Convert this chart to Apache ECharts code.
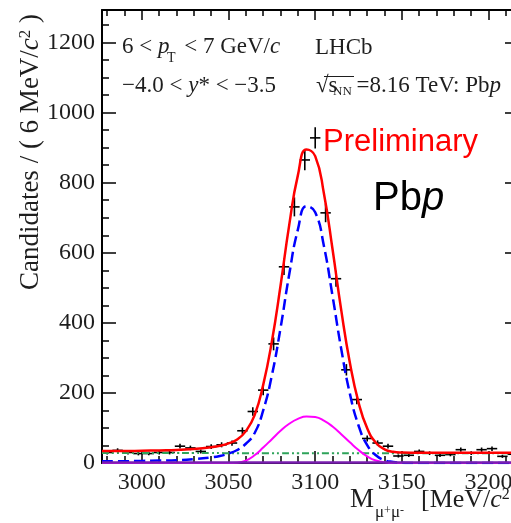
<!DOCTYPE html>
<html>
<head>
<meta charset="utf-8">
<script src="https://cdn.jsdelivr.net/npm/echarts@6/dist/echarts.min.js"></script>
<style>
  html, body { margin: 0; padding: 0; background: #fff; }
  #chart { width: 511px; height: 523px; }
</style>
</head>
<body>
<div id="chart"></div>
<script>
// dimuon mass bins (6 MeV wide) and candidate counts
var binCenters = [2980, 2986, 2992, 2998, 3004, 3010, 3016, 3022, 3028, 3034,
                  3040, 3046, 3052, 3058, 3064, 3070, 3076, 3082, 3088, 3094,
                  3100, 3106, 3112, 3118, 3124, 3130, 3136, 3142, 3148, 3154,
                  3160, 3166, 3172, 3178, 3184, 3190, 3196, 3202, 3208, 3214];
var counts = [30, 36, 30, 27, 27, 30, 30, 48, 43, 33,
              47, 52, 57, 92, 147, 208, 340, 560, 731, 865,
              928, 714, 526, 266, 181, 70, 57, 48, 20, 22,
              33, 28, 22, 24, 38, 28, 38, 41, 19, 25];
var halfBin = 3;

// fit curves at these masses
var curveX = [2977, 2990, 3000, 3010, 3020, 3030, 3040, 3045, 3050, 3055,
              3060, 3065, 3070, 3075, 3080, 3085, 3090, 3095, 3100, 3105,
              3110, 3115, 3120, 3125, 3130, 3135, 3140, 3145, 3150, 3160,
              3170, 3180, 3190, 3200, 3210, 3217];
var totalFit = [34, 34, 35, 36, 37, 40, 45, 49, 56, 67,
                91, 136, 223, 347, 506, 679, 821, 895, 876, 770,
                610, 437, 286, 173, 99, 58, 39, 32, 30, 29,
                29, 29, 29, 29, 29, 29];
var signalMain = [5, 5, 6, 7, 8, 11, 16, 20, 27, 37,
                  55, 85, 150, 250, 385, 538, 666, 733, 716, 620,
                  477, 326, 198, 107, 51, 22, 8, 3, 1, 0,
                  0, 0, 0, 0, 0, 0];
var signalSecond = [0, 0, 0, 0, 0, 0, 0, 0, 0, 1,
                    7, 22, 44, 68, 92, 112, 126, 133, 131, 121,
                    104, 82, 59, 37, 19, 7, 2, 0, 0, 0,
                    0, 0, 0, 0, 0, 0];
var bkgFlat = [28.5, 28.4, 28.4, 28.3, 28.3, 28.2, 28.2, 28.2, 28.1, 28.1,
               28.1, 28, 28, 28, 28, 28, 28, 28, 28, 28,
               28, 28, 28, 28, 28, 27.9, 27.9, 27.9, 27.9, 27.8,
               27.8, 27.7, 27.7, 27.6, 27.6, 27.5];
var bkgLow = [1.5, 1.5, 1.5, 1.5, 1.5, 1.5, 1.5, 1.5, 1.5, 1.5,
              1.5, 1.5, 1.5, 1.5, 1.5, 1.5, 1.5, 1.5, 1.5, 1.5,
              1.5, 1.5, 1.5, 1.5, 1.5, 1.5, 1.5, 1.5, 1.5, 1.5,
              1.5, 1.5, 1.5, 1.5, 1.5, 1.5];

// axes
var xMin = 2977, xMax = 3217, yMin = 0, yMax = 1293;
var xMajorTicks = [3000, 3050, 3100, 3150, 3200];
var xMinorTicks = [2980, 2990, 3010, 3020, 3030, 3040, 3060, 3070, 3080, 3090,
                   3110, 3120, 3130, 3140, 3160, 3170, 3180, 3190, 3210];
var yMajorTicks = [0, 200, 400, 600, 800, 1000, 1200];
var yMinorTicks = [50, 100, 150, 250, 300, 350, 450, 500, 550, 650, 700, 750,
                   850, 900, 950, 1050, 1100, 1150, 1250];

var serif = 'Liberation Serif';
var sans = 'Liberation Sans';
var ink = '#1e1e1e';

function pairs(xs, ys) {
  return xs.map(function (x, i) { return [x, ys[i]]; });
}

function plain(v) { return String(v); }

function xAx(grid, pos, ticks, len, withLine, labels) {
  return {
    type: 'value', gridIndex: grid, position: pos, min: xMin, max: xMax,
    axisLine: { show: withLine, onZero: false, lineStyle: { color: '#000', width: 2 } },
    axisTick: { show: true, inside: true, length: len, customValues: ticks,
                lineStyle: { color: '#000', width: 1.5 } },
    axisLabel: labels ? { show: true, customValues: ticks, formatter: plain, fontFamily: serif,
                          fontSize: 24, color: ink, margin: 8 } : { show: false },
    splitLine: { show: false }
  };
}

function yAx(grid, pos, ticks, len, withLine, labels) {
  return {
    type: 'value', gridIndex: grid, position: pos, min: yMin, max: yMax,
    axisLine: { show: withLine, onZero: false, lineStyle: { color: '#000', width: 2 } },
    axisTick: { show: true, inside: true, length: len, customValues: ticks,
                lineStyle: { color: '#000', width: 1.5 } },
    axisLabel: labels ? { show: true, customValues: ticks, formatter: plain, fontFamily: serif,
                          fontSize: 24, color: ink, margin: 7 } : { show: false },
    splitLine: { show: false }
  };
}

function line(name, ys, color, width, type, z) {
  return {
    name: name, type: 'line', xAxisIndex: 0, yAxisIndex: 0,
    data: pairs(curveX, ys), showSymbol: false, smooth: 0.5,
    lineStyle: { color: color, width: width, type: type }, z: z, silent: true
  };
}

function txt(x, y, text, size, family, rich, extra) {
  var el = {
    type: 'text', x: x, y: y, silent: true,
    style: { text: text, fontSize: size, fontFamily: family, fill: ink,
             verticalAlign: 'middle', rich: rich || {} }
  };
  for (var k in (extra || {})) el[k] = extra[k];
  return el;
}

var it23 = { i: { fontStyle: 'italic', fontSize: 23, fontFamily: serif, fill: ink },
             g: { width: 9, fontSize: 23, fontFamily: serif } };

var yTitle = txt(31, 152, '{t|Candidates / ( 6 MeV/}{i|c}{s|2}{t| )}', 27, serif, {
  t: { fontSize: 27, fontFamily: serif, fill: ink },
  i: { fontSize: 27, fontFamily: serif, fontStyle: 'italic', fill: ink },
  s: { fontSize: 17, fontFamily: serif, fill: ink, verticalAlign: 'top' }
}, { rotation: Math.PI / 2 });
yTitle.style.align = 'center';

var chart = echarts.init(document.getElementById('chart'));
chart.setOption({
  animation: false,
  backgroundColor: '#fff',
  grid: [
    { left: 102, top: 10, right: -7, bottom: 60, outerBoundsMode: 'none' },
    { left: 102, top: 10, right: -7, bottom: 60, outerBoundsMode: 'none' }
  ],
  xAxis: [
    xAx(0, 'bottom', xMajorTicks, 12, true, true),
    xAx(0, 'top', xMajorTicks, 10, true, false),
    xAx(1, 'bottom', xMinorTicks, 7, false, false),
    xAx(1, 'top', xMinorTicks, 6, false, false)
  ],
  yAxis: [
    yAx(0, 'left', yMajorTicks, 14, true, true),
    yAx(0, 'right', yMajorTicks, 13, true, false),
    yAx(1, 'left', yMinorTicks, 7, false, false),
    yAx(1, 'right', yMinorTicks, 7, false, false)
  ],
  series: [
    {
      name: 'data', type: 'custom', xAxisIndex: 0, yAxisIndex: 0, z: 2, silent: true,
      data: binCenters.map(function (x, i) { return [x, counts[i], Math.sqrt(counts[i])]; }),
      renderItem: function (params, api) {
        var x = api.value(0), y = api.value(1), e = api.value(2);
        var c = api.coord([x, y]);
        var l = api.coord([x - halfBin, y]);
        var r = api.coord([x + halfBin, y]);
        var t = api.coord([x, y + e]);
        var b = api.coord([x, y - e]);
        var st = { stroke: '#000', lineWidth: 1.6 };
        return { type: 'group', children: [
          { type: 'line', shape: { x1: l[0], y1: c[1], x2: r[0], y2: c[1] }, style: st },
          { type: 'line', shape: { x1: c[0], y1: t[1], x2: c[0], y2: b[1] }, style: st }
        ] };
      },
      clip: true
    },
    line('background', bkgFlat, '#2ea35a', 2, [7, 3, 2, 3, 2, 3], 3),
    line('second signal', signalSecond, '#ff00ff', 2, 'solid', 4),
    line('signal', signalMain, '#0000ff', 2.5, [11, 5], 5),
    line('low background', bkgLow, '#7a1fb0', 2.5, 'solid', 6),
    line('total', totalFit, '#ff0000', 2.5, 'solid', 7)
  ],
  graphic: [
    yTitle,
    // x-axis title
    txt(350, 500, 'M', 27, serif),
    txt(375, 513, '{m|μ}{s|+}{m|μ}{s|-}', 17, serif, {
      m: { fontSize: 17, fontFamily: serif, fill: ink },
      s: { fontSize: 12, fontFamily: serif, fill: ink, verticalAlign: 'top' }
    }),
    txt(421, 500, '{t|[MeV/}{i|c}{s|2}', 26, serif, {
      t: { fontSize: 26, fontFamily: serif, fill: ink },
      i: { fontSize: 26, fontFamily: serif, fontStyle: 'italic', fill: ink },
      s: { fontSize: 16, fontFamily: serif, fill: ink, verticalAlign: 'top' }
    }),
    // kinematic range
    txt(122, 47, '6 < {i|p}{g| } < 7 GeV/{i|c}', 23, serif, it23),
    txt(167, 58, 'T', 14, serif),
    txt(122, 86, '−4.0 < {i|y}* < −3.5', 23, serif, it23),
    // experiment labels
    txt(315, 48, 'LHCb', 23, serif),
    txt(316, 86, '√s{g| }=8.16 TeV: Pb{i|p}', 23, serif,
        { i: it23.i, g: { width: 19, fontSize: 23, fontFamily: serif } }),
    txt(333, 92, 'NN', 13, serif),
    { type: 'line', silent: true, shape: { x1: 324, y1: 76.5, x2: 354, y2: 76.5 },
      style: { stroke: ink, lineWidth: 1 } },
    {
      type: 'text', x: 323, y: 142, silent: true,
      style: { text: 'Preliminary', fontSize: 31, fontFamily: sans, fill: '#ff0000',
               verticalAlign: 'middle' }
    },
    {
      type: 'text', x: 373, y: 199, silent: true,
      style: { text: 'Pb{i|p}', fontSize: 40, fontFamily: sans, fill: '#000',
               verticalAlign: 'middle',
               rich: { i: { fontSize: 40, fontFamily: sans, fontStyle: 'italic', fill: '#000' } } }
    }
  ]
});
</script>
</body>
</html>
